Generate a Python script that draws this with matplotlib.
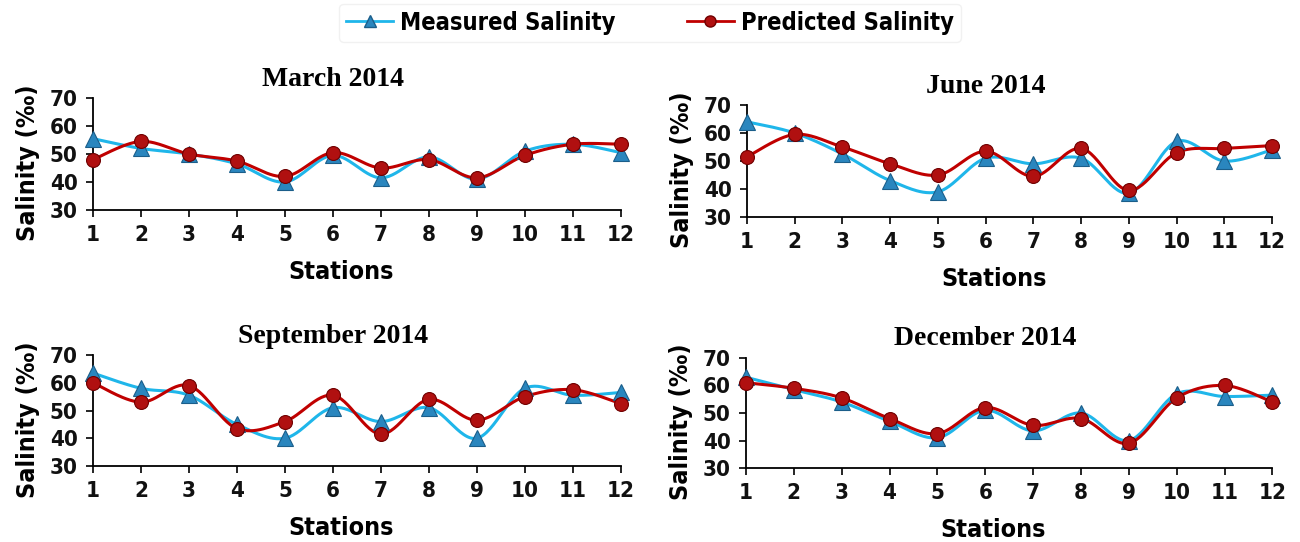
import numpy as np
import matplotlib
matplotlib.use("Agg")
import matplotlib.pyplot as plt
from matplotlib.lines import Line2D

stations = list(range(1, 13))
months = ["March 2014", "June 2014", "September 2014", "December 2014"]

march_measured = [55.5, 52, 50, 46.5, 40, 49.5, 41.5, 49, 41, 51, 53.5, 50.5]
march_predicted = [48, 54.5, 50, 47.5, 42, 50.5, 45, 48, 41.5, 49.5, 53.5, 53.5]
june_measured = [64, 60, 52.5, 43, 39, 51, 49, 51, 38.5, 57, 50, 54]
june_predicted = [51.5, 59.5, 55, 49, 45, 53.5, 44.5, 54.5, 39.5, 53, 54.5, 55.5]
sept_measured = [63.5, 58, 55.5, 45, 40, 51, 46, 51, 40, 58, 55.5, 56.5]
sept_predicted = [60, 53, 59, 43.5, 46, 55.5, 41.5, 54, 46.5, 55, 57.5, 52.5]
dec_measured = [63, 58.5, 54, 47, 41, 51, 43.5, 50, 40, 57, 56, 56.5]
dec_predicted = [61, 59, 55.5, 48, 42.5, 52, 45.5, 48, 39, 55.5, 60, 54]

measured = [march_measured, june_measured, sept_measured, dec_measured]
predicted = [march_predicted, june_predicted, sept_predicted, dec_predicted]

c_meas_line = "#1FB6EA"
c_meas_mark = "#2A86BE"
c_pred_line = "#C00000"
c_pred_mark = "#B01010"

plt.rcParams["font.family"] = ["DejaVu Sans"]
plt.rcParams["font.stretch"] = "condensed"


def smooth(x, y, n=30):
    # excel-style smoothed line (bezier through the points)
    x = np.asarray(x, float)
    y = np.asarray(y, float)
    pts = np.column_stack([x, y])
    out = []
    t = np.linspace(0, 1, n)[:, None]
    for i in range(len(pts) - 1):
        p0 = pts[i]
        p3 = pts[i + 1]
        pm = pts[i - 1] if i > 0 else pts[i]
        pp = pts[i + 2] if i + 2 < len(pts) else pts[i + 1]
        p1 = p0 + (p3 - pm) / 6.0
        p2 = p3 - (pp - p0) / 6.0
        seg = ((1 - t) ** 3) * p0 + 3 * ((1 - t) ** 2) * t * p1 + 3 * (1 - t) * t ** 2 * p2 + t ** 3 * p3
        out.append(seg)
    out = np.vstack(out)
    return out[:, 0], out[:, 1]


fig = plt.figure(figsize=(13, 5.42), dpi=100)
positions = [
    [0.0715, 0.6125, 0.406, 0.2066],
    [0.5746, 0.5996, 0.404, 0.2066],
    [0.0715, 0.1402, 0.406, 0.2048],
    [0.5738, 0.1365, 0.405, 0.2030],
]

for k in range(4):
    ax = fig.add_axes(positions[k])
    xs, ys = smooth(stations, measured[k])
    ax.plot(xs, ys, color=c_meas_line, lw=2.2, clip_on=False, zorder=2)
    xs, ys = smooth(stations, predicted[k])
    ax.plot(xs, ys, color=c_pred_line, lw=2.2, clip_on=False, zorder=3)
    ax.plot(stations, measured[k], ls="none", marker="^", ms=11, mfc=c_meas_mark,
            mec="#1B5E8A", mew=0.8, clip_on=False, zorder=4)
    ax.plot(stations, predicted[k], ls="none", marker="o", ms=10, mfc=c_pred_mark,
            mec="#700000", mew=0.8, clip_on=False, zorder=5)

    ax.set_xlim(1, 12)
    ax.set_ylim(30, 70)
    ax.set_xticks(stations)
    ax.set_yticks([30, 40, 50, 60, 70])
    ax.spines["top"].set_visible(False)
    ax.spines["right"].set_visible(False)
    ax.spines["left"].set_linewidth(1.3)
    ax.spines["bottom"].set_linewidth(1.3)
    ax.tick_params(axis="both", labelsize=16, length=5, width=1.2, pad=6)
    for lab in ax.get_xticklabels() + ax.get_yticklabels():
        lab.set_fontweight("bold")
        lab.set_color("#111111")

    ax.set_title(months[k], fontsize=20, fontweight="bold", family="Liberation Serif",
                 pad=9, x=0.455)
    ax.set_xlabel("Stations", fontsize=18, fontweight="bold")
    ax.set_ylabel("Salinity (‰)", fontsize=18, fontweight="bold")
    ax.xaxis.set_label_coords(0.47, -0.45)
    ax.yaxis.set_label_coords(-0.10, 0.42)

handles = [
    Line2D([], [], color=c_meas_line, lw=2, marker="^", ms=9, mfc=c_meas_mark, mec="#1B5E8A"),
    Line2D([], [], color=c_pred_line, lw=2, marker="o", ms=8, mfc=c_pred_mark, mec="#700000"),
]
leg = fig.legend(handles, ["Measured Salinity", "Predicted Salinity"], loc="upper center",
                 bbox_to_anchor=(0.5, 1.015), ncol=2, frameon=True,
                 prop={"size": 17, "weight": "bold", "stretch": "condensed"},
                 handlelength=2.0, handletextpad=0.3, columnspacing=3.0, borderpad=0.3)
leg.get_frame().set_edgecolor("#EEEEEE")
leg.get_frame().set_linewidth(1.0)

fig.savefig("out.png", dpi=100)
